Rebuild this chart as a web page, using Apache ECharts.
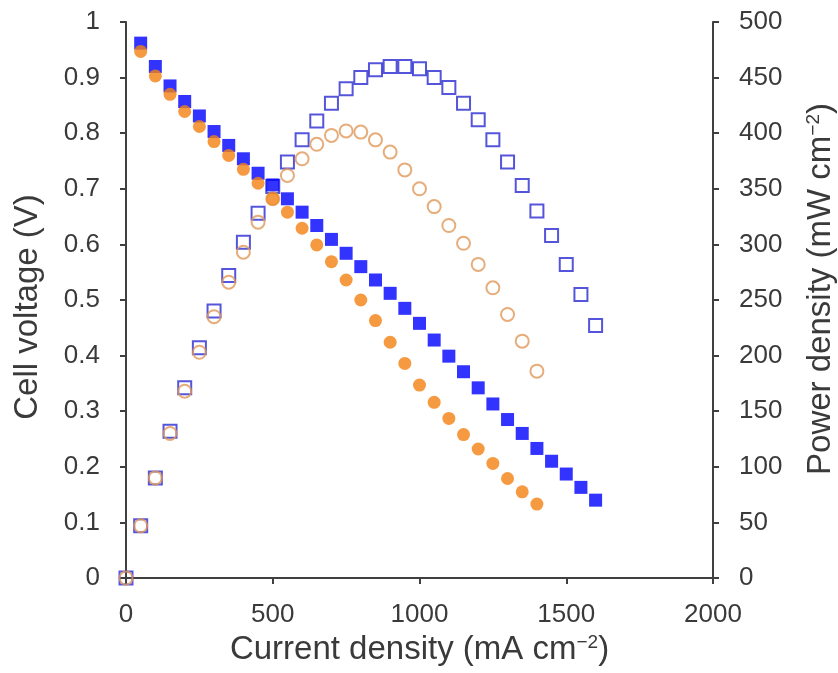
<!DOCTYPE html>
<html>
<head>
<meta charset="utf-8">
<style>
  html, body { margin: 0; padding: 0; background: #ffffff; overflow: hidden; }
  #chart { width: 838px; height: 673px; }
</style>
<script src="https://cdn.jsdelivr.net/npm/echarts@6/dist/echarts.min.js"></script>
</head>
<body>
<div id="chart"></div>
<script>
// Current density steps (mA cm^-2)
const currentBlue = [0, 50, 100, 150, 200, 250, 300, 350, 400, 450, 500, 550, 600, 650, 700, 750, 800,
  850, 900, 950, 1000, 1050, 1100, 1150, 1200, 1250, 1300, 1350, 1400, 1450, 1500, 1550, 1600];
const currentOrange = [0, 50, 100, 150, 200, 250, 300, 350, 400, 450, 500, 550, 600, 650, 700, 750, 800,
  850, 900, 950, 1000, 1050, 1100, 1150, 1200, 1250, 1300, 1350, 1400];

// Cell voltage (V), measured from 50 mA cm^-2 upward
const voltageBlue = [0.962, 0.920, 0.885, 0.857, 0.831, 0.803, 0.778, 0.754, 0.728, 0.707, 0.682, 0.658,
  0.634, 0.609, 0.584, 0.560, 0.536, 0.512, 0.485, 0.458, 0.428, 0.399, 0.371, 0.342, 0.313, 0.285,
  0.260, 0.233, 0.210, 0.187, 0.163, 0.140];
const voltageOrange = [0.947, 0.903, 0.870, 0.839, 0.812, 0.785, 0.760, 0.735, 0.710, 0.682, 0.658, 0.629,
  0.599, 0.569, 0.536, 0.500, 0.463, 0.424, 0.386, 0.347, 0.316, 0.287, 0.258, 0.232, 0.206, 0.179,
  0.155, 0.133];

// Power density (mW cm^-2), measured from 0 mA cm^-2 upward
const powerBlue = [0, 47, 90, 132, 171, 207, 240, 272, 302, 328, 352, 374, 394, 411, 427, 440, 450, 457,
  460, 460, 458, 450, 441, 427, 412, 394, 374, 353, 330, 308, 282, 255, 227];
const powerOrange = [0, 47, 90, 130, 168, 203, 235, 266, 293, 320, 341, 362, 377, 390, 398, 402, 401, 394,
  383, 367, 350, 334, 317, 301, 282, 261, 237, 213, 186];

// Axis tick settings
const xTicks = { min: 0, max: 2000, interval: 500 };
const voltageTicks = { min: 0, max: 1, interval: 0.1 };
const powerTicks = { min: 0, max: 500, interval: 50 };

const pair = (xs, ys) => ys.map((y, i) => [xs[i], y]);

const FONT = "'Liberation Sans', Arial, sans-serif";
const TEXT = '#3a3a3a';
const AXIS = '#404040';

const nameStyle = (padding) => ({
  color: TEXT, fontSize: 33, fontFamily: FONT, padding: padding,
  rich: { sup: { fontSize: 19, fontFamily: FONT, color: TEXT, padding: [0, 0, 15, 0] } }
});

const axisCommon = {
  axisLine: { show: true, lineStyle: { color: AXIS, width: 2 } },
  axisTick: { show: true, inside: false, length: 6, lineStyle: { color: AXIS, width: 2 } },
  splitLine: { show: false }
};
const labelStyle = (margin) => ({
  color: TEXT, fontSize: 26, fontFamily: FONT, margin: margin,
  formatter: (v) => String(v)
});

const chart = echarts.init(document.getElementById('chart'), null, { renderer: 'canvas' });
chart.setOption({
  backgroundColor: '#ffffff',
  animation: false,
  grid: { left: 126, right: 125, top: 22, bottom: 95, containLabel: false, outerBoundsMode: 'none' },
  xAxis: Object.assign({}, axisCommon, {
    type: 'value',
    min: xTicks.min, max: xTicks.max, interval: xTicks.interval,
    name: 'Current density (mA cm{sup|−2})',
    nameLocation: 'middle',
    nameGap: 55,
    nameTextStyle: nameStyle([0, 0, 0, 0]),
    axisLabel: labelStyle(24)
  }),
  yAxis: [
    Object.assign({}, axisCommon, {
      type: 'value', position: 'left',
      min: voltageTicks.min, max: voltageTicks.max, interval: voltageTicks.interval,
      name: 'Cell voltage (V)',
      nameLocation: 'middle', nameRotate: 90, nameGap: 82,
      nameTextStyle: nameStyle([0, 14, 0, 0]),
      axisLabel: labelStyle(26)
    }),
    Object.assign({}, axisCommon, {
      type: 'value', position: 'right',
      min: powerTicks.min, max: powerTicks.max, interval: powerTicks.interval,
      name: 'Power density (mW cm{sup|−2})',
      nameLocation: 'middle', nameRotate: 90, nameGap: 91,
      nameTextStyle: nameStyle([0, 0, 0, 22]),
      axisLabel: labelStyle(26)
    })
  ],
  series: [
    {
      name: 'Power (blue)', type: 'scatter', yAxisIndex: 1,
      data: pair(currentBlue, powerBlue),
      symbol: 'rect', symbolSize: 13,
      itemStyle: { color: 'rgba(255,255,255,0)', borderColor: '#2a2ad2', borderWidth: 2 }
    },
    {
      name: 'Power (orange)', type: 'scatter', yAxisIndex: 1,
      data: pair(currentOrange, powerOrange),
      symbol: 'circle', symbolSize: 13,
      itemStyle: { color: 'rgba(255,255,255,0)', borderColor: '#e0995a', borderWidth: 2 }
    },
    {
      name: 'Voltage (blue)', type: 'scatter', yAxisIndex: 0,
      data: pair(currentBlue.slice(1), voltageBlue),
      symbol: 'rect', symbolSize: 13,
      itemStyle: { color: '#0000ff' }
    },
    {
      name: 'Voltage (orange)', type: 'scatter', yAxisIndex: 0,
      data: pair(currentOrange.slice(1), voltageOrange),
      symbol: 'circle', symbolSize: 13,
      itemStyle: { color: '#f28112' }
    }
  ]
});
</script>
</body>
</html>
